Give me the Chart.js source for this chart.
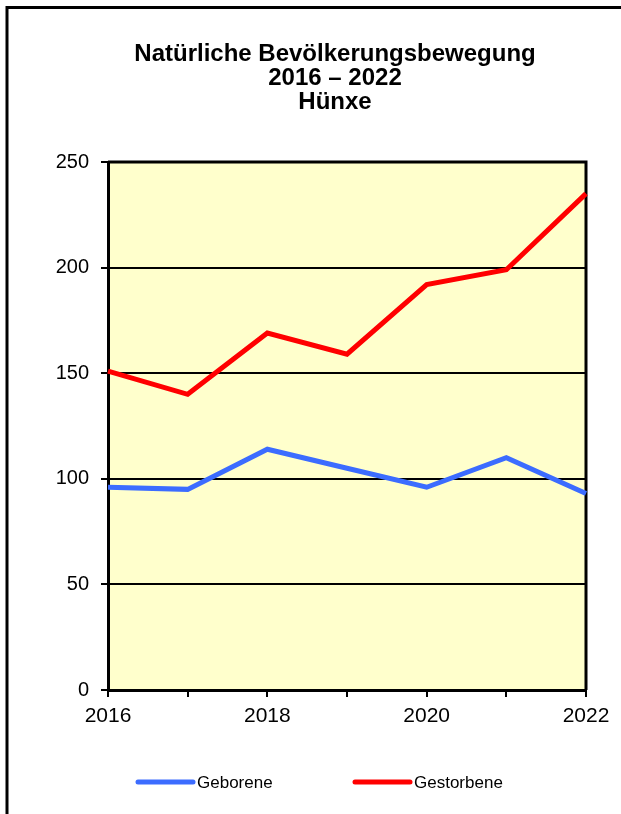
<!DOCTYPE html>
<html>
<head>
<meta charset="utf-8">
<script src="https://cdn.jsdelivr.net/npm/chart.js@4"></script>
<style>
html, body { margin: 0; padding: 0; background: #fff; }
#wrap { width: 621px; height: 814px; }
</style>
</head>
<body>
<div id="wrap"><canvas id="c" width="621" height="814"></canvas></div>
<script>
var years = ['2016', '2017', '2018', '2019', '2020', '2021', '2022'];
var geborene = [96, 95, 114, 105, 96, 110, 93];
var gestorbene = [151, 140, 169, 159, 192, 199, 235];
var titleLines = ['Natürliche Bevölkerungsbewegung', '2016 – 2022', 'Hünxe'];

var FONT = 'Arial, "Liberation Sans", sans-serif';

// frame, plot background and top/right border
var framePlugin = {
    id: 'frame',
    beforeDraw: function(chart) {
        var ctx = chart.ctx, a = chart.chartArea;
        ctx.save();
        ctx.fillStyle = '#fff';
        ctx.fillRect(0, 0, chart.width, chart.height);
        ctx.fillStyle = '#FFFFCC';
        ctx.fillRect(a.left, a.top, a.right - a.left, a.bottom - a.top);
        ctx.strokeStyle = '#000';
        ctx.lineWidth = 3;
        ctx.beginPath();
        ctx.moveTo(7, chart.height + 5);
        ctx.lineTo(7, 7.5);
        ctx.lineTo(chart.width + 5, 7.5);
        ctx.stroke();
        ctx.restore();
    },
    beforeDatasetsDraw: function(chart) {
        var ctx = chart.ctx, a = chart.chartArea;
        ctx.save();
        ctx.strokeStyle = '#000';
        ctx.lineWidth = 3;
        ctx.beginPath();
        ctx.moveTo(a.left, a.top);
        ctx.lineTo(a.right, a.top);
        ctx.lineTo(a.right, a.bottom);
        ctx.stroke();
        ctx.restore();
    },
    afterDraw: function(chart) {
        var ctx = chart.ctx;
        ctx.save();
        // title
        ctx.fillStyle = '#000';
        ctx.font = 'bold 24px ' + FONT;
        ctx.textAlign = 'center';
        ctx.textBaseline = 'middle';
        titleLines.forEach(function(t, i) {
            ctx.fillText(t, 335, 54 + i * 24);
        });
        // legend
        ctx.font = '17px ' + FONT;
        ctx.textAlign = 'left';
        var starts = [138, 355];
        chart.data.datasets.forEach(function(ds, i) {
            var x = starts[i], y = 782;
            ctx.strokeStyle = ds.borderColor;
            ctx.lineWidth = 5;
            ctx.lineCap = 'round';
            ctx.beginPath();
            ctx.moveTo(x, y);
            ctx.lineTo(x + 55, y);
            ctx.stroke();
            ctx.fillStyle = '#000';
            ctx.fillText(ds.label, x + 59, y + 1);
        });
        ctx.restore();
    }
};

new Chart(document.getElementById('c'), {
    type: 'line',
    data: {
        labels: years,
        datasets: [
            { label: 'Geborene', data: geborene, borderColor: '#3C6CFF', borderWidth: 5, pointRadius: 0, tension: 0, fill: false },
            { label: 'Gestorbene', data: gestorbene, borderColor: '#FF0000', borderWidth: 5, pointRadius: 0, tension: 0, fill: false }
        ]
    },
    options: {
        responsive: false,
        animation: false,
        layout: { padding: { left: 48, top: 162, right: 35, bottom: 84 } },
        plugins: {
            legend: { display: false },
            title: { display: false },
            tooltip: { enabled: false }
        },
        scales: {
            x: {
                offset: false,
                afterFit: function(s) { s.height = 40; },
                grid: { drawOnChartArea: false, drawTicks: true, tickLength: 7, color: '#000', lineWidth: 2 },
                border: { color: '#000', width: 3 },
                ticks: {
                    autoSkip: false, maxRotation: 0, padding: 7, color: '#000',
                    font: { family: FONT, size: 21 },
                    callback: function(v, i) { return i % 2 === 0 ? years[i] : ''; }
                }
            },
            y: {
                min: 0, max: 250,
                afterFit: function(s) { s.width = 60; },
                grid: { color: '#000', lineWidth: 2, tickLength: 7 },
                border: { color: '#000', width: 3 },
                ticks: { stepSize: 50, padding: 12, color: '#000', font: { family: FONT, size: 20 } }
            }
        }
    },
    plugins: [framePlugin]
});
</script>
</body>
</html>
